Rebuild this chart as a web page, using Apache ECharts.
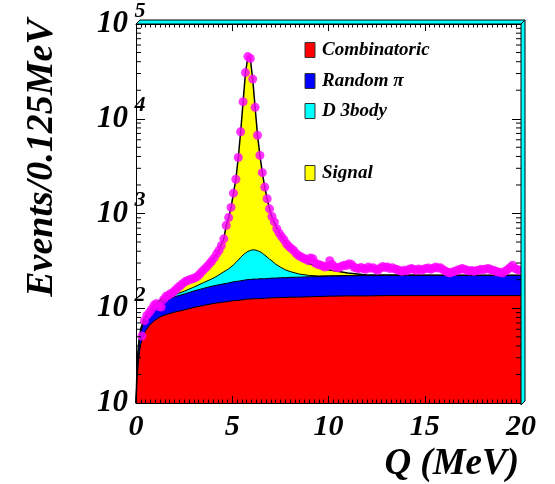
<!DOCTYPE html>
<html>
<head>
<meta charset="utf-8">
<script src="https://cdn.jsdelivr.net/npm/echarts@6/dist/echarts.min.js"></script>
<style>
html, body { margin: 0; padding: 0; background: #fff; }
#main { width: 555px; height: 484px; }
</style>
</head>
<body>
<div id="main"></div>
<script>
// histogram binning of the data points (MeV)
var binWidth = 0.125;

// measured events per 0.125 MeV bin (first two bins empty)
var dataCounts = [
    null, null, 51, 74, 84, 90, 98, 108, 112, 104,
    103, 124, 134, 137, 143, 148, 157, 166, 174, 183,
    191, 196, 201, 205, 210, 216, 230, 245, 260, 275,
    294, 315, 340, 375, 408, 460, 540, 748, 905, 1160,
    1640, 2300, 3900, 7300, 15100, 30700, 45300, 43200, 26200, 13200,
    6700, 4100, 2700, 1900, 1430, 1120, 930, 815, 690, 620,
    570, 528, 480, 450, 428, 408, 380, 360, 350, 338,
    330, 318, 340, 333, 300, 290, 286, 280, 272, 278,
    318, 290, 272, 268, 270, 278, 285, 282, 295, 290,
    272, 266, 262, 270, 262, 258, 272, 265, 268, 258,
    252, 264, 276, 270, 272, 262, 268, 260, 256, 250,
    245, 252, 248, 258, 262, 256, 252, 260, 252, 258,
    262, 266, 258, 264, 272, 266, 268, 256, 248, 240,
    236, 242, 245, 252, 256, 262, 258, 252, 248, 250,
    245, 250, 252, 258, 256, 260, 262, 255, 252, 246,
    241, 238, 236, 248, 256, 270, 284, 262, 256, 252
];

// fit components, evaluated at modelQ (MeV)
var modelQ = [
    0, 0.0625, 0.125, 0.1875, 0.25, 0.375, 0.5, 0.75, 1, 1.25, 1.5, 2, 2.5, 3, 3.5, 4, 4.25,
    4.5625, 4.6875, 4.8125, 4.9375, 5.0625, 5.1875, 5.3125, 5.4375, 5.5625, 5.6875, 5.8125,
    5.9375, 6.0625, 6.1875, 6.3125, 6.4375, 6.5625, 6.6875, 6.8125, 6.9375, 7.0625,
    7.25, 7.5, 7.75, 8, 8.5, 9, 9.5, 10, 11, 12, 13, 14, 16, 18, 20
];
var combinatoric = [
    10, 18, 27, 35, 42, 51, 58, 68, 75, 81, 85, 91, 96, 102, 107, 112, 114,
    116, 117, 118, 119, 120, 121, 121, 122, 123, 124, 125,
    125, 126, 126, 126, 127, 127, 127, 128, 128, 129,
    129, 130, 130, 131, 131, 132, 133, 134, 135, 135, 136, 136, 136, 136, 136
];
var randomPi = [
    0, 5, 8, 11, 14, 18, 21, 26, 30, 33, 36, 41, 45, 50, 55, 60, 62,
    65, 66, 67, 69, 70, 71, 72, 73, 74, 75, 76,
    76, 77, 77, 77, 78, 78, 78, 78, 79, 79,
    79, 80, 80, 81, 82, 83, 83, 84, 85, 86, 86, 86, 86, 86, 86
];
var d3body = [
    0, 1, 2, 2, 2, 2, 3, 3, 4, 4, 5, 7, 10, 15, 24, 35, 45,
    62, 68, 76, 85, 97, 112, 130, 150, 168, 184, 197,
    206, 211, 209, 202, 191, 176, 159, 141, 123, 108,
    85, 62, 45, 32, 16, 7, 3, 2, 1, 0, 0, 0, 0, 0, 0
];
var signal = [
    0, 3, 3, 3, 3, 2, 1, 2, 2, 4, 8, 13, 30, 41, 69, 121, 169,
    300, 500, 645, 890, 1350, 2000, 3580, 6950, 14700, 30300, 44900,
    42800, 25800, 12800, 6300, 3700, 2320, 1540, 1080, 790, 610,
    457, 323, 245, 194, 126, 73, 56, 35, 14, 4, 2, 2, 1, 1, 1
];

var yDecades = [10, 100, 1000, 10000, 100000];
var legendNames = ['Combinatoric', 'Random \u03c0', 'D 3body', 'Signal'];
var legendColors = ['#ff0000', '#0000ff', '#00ffff', '#ffff00'];
var legendRows = [50, 81, 111, 173];

var FONT = '"Liberation Serif", "Times New Roman", serif';

// stack the components
function stackOn(base, add) {
    return base.map(function(v, i) { return v + add[i]; });
}
var topRed = combinatoric.slice();
var topBlue = stackOn(topRed, randomPi);
var topCyan = stackOn(topBlue, d3body);
var topYellow = stackOn(topCyan, signal);

function pairs(ys) {
    return modelQ.map(function(q, i) { return [q, ys[i]]; });
}

var points = [];
dataCounts.forEach(function(v, i) {
    if (v != null) points.push([binWidth * (i + 0.5), v]);
});

// minor ticks of the log axis (2..9 x 10^n)
var minorVals = [];
for (var d = 0; d < yDecades.length - 1; d++) {
    for (var k = 2; k <= 9; k++) minorVals.push([0, k * yDecades[d]]);
}

function areaSeries(name, ys, color, z, lw) {
    return {
        name: name,
        type: 'line',
        data: pairs(ys),
        showSymbol: false,
        symbol: 'none',
        z: z,
        lineStyle: { color: '#000', width: lw },
        areaStyle: { color: color, opacity: 1, origin: 'start' },
        emphasis: { disabled: true },
        animation: false
    };
}

var chart = echarts.init(document.getElementById('main'));

var xAxisBase = {
    type: 'value', min: 0, max: 20, interval: 5, z: 10,
    axisLine: { show: true, onZero: false, lineStyle: { color: '#000', width: 1 } },
    axisTick: { show: true, inside: true, length: 7, lineStyle: { color: '#000' } },
    minorTick: { show: true, splitNumber: 20, length: 3.5, lineStyle: { color: '#000' } },
    splitLine: { show: false }
};
var yAxisBase = {
    type: 'log', logBase: 10, min: 10, max: 100000, z: 10,
    axisLine: { show: true, onZero: false, lineStyle: { color: '#000', width: 1 } },
    axisTick: { show: true, inside: true, length: 9, lineStyle: { color: '#000' } },
    splitLine: { show: false }
};

chart.setOption({
    animation: false,
    grid: { left: 136, right: 34, top: 24, bottom: 81 },
    xAxis: [
        Object.assign({}, xAxisBase, {
            position: 'bottom',
            axisLabel: { color: '#000', fontFamily: FONT, fontSize: 30, fontWeight: 'bold', fontStyle: 'italic', margin: 9 }
        }),
        Object.assign({}, xAxisBase, { position: 'top', axisLabel: { show: false } })
    ],
    yAxis: [
        Object.assign({}, yAxisBase, {
            position: 'left',
            axisLabel: {
                color: '#000', fontFamily: FONT, fontSize: 31, fontWeight: 'bold', fontStyle: 'italic',
                margin: 8, padding: [6, 0, 0, 0],
                formatter: function() { return '10'; }
            }
        }),
        Object.assign({}, yAxisBase, { position: 'right', axisLabel: { show: false } })
    ],
    series: [
        areaSeries('Signal', topYellow, '#ffff00', 2, 1.5),
        areaSeries('D 3body', topCyan, '#00ffff', 3, 1),
        areaSeries('Random \u03c0', topBlue, '#0000ff', 4, 1),
        areaSeries('Combinatoric', topRed, '#ff0000', 5, 1),
        {
            name: 'Data',
            type: 'scatter',
            data: points,
            symbol: 'circle',
            symbolSize: 9,
            z: 6,
            itemStyle: { color: '#ff00ff' },
            emphasis: { disabled: true }
        },
        {
            type: 'custom',
            data: minorVals,
            z: 11,
            silent: true,
            clip: false,
            renderItem: function(params, api) {
                var v = api.value(1);
                var l = api.coord([0, v]);
                var r = api.coord([20, v]);
                return {
                    type: 'group',
                    children: [
                        { type: 'line', shape: { x1: l[0], y1: l[1], x2: l[0] + 5, y2: l[1] }, style: { stroke: '#000', lineWidth: 1 } },
                        { type: 'line', shape: { x1: r[0] - 5, y1: r[1], x2: r[0], y2: r[1] }, style: { stroke: '#000', lineWidth: 1 } }
                    ]
                };
            }
        }
    ]
});

// frame bevel, titles, exponents, legend
var x0 = chart.convertToPixel({ xAxisIndex: 0 }, 0);
var x1 = chart.convertToPixel({ xAxisIndex: 0 }, 20);
var yTop = chart.convertToPixel({ yAxisIndex: 0 }, 100000);
var yBot = chart.convertToPixel({ yAxisIndex: 0 }, 10);

var elements = [
    {
        type: 'polygon', z: 100,
        shape: { points: [[x0, yTop], [x0 + 4, yTop - 4], [x1 + 4, yTop - 4], [x1, yTop]] },
        style: { fill: '#00ffff', stroke: '#000', lineWidth: 1 }
    },
    {
        type: 'polygon', z: 100,
        shape: { points: [[x1, yTop], [x1 + 4, yTop - 4], [x1 + 4, yBot - 2], [x1, yBot + 2]] },
        style: { fill: '#00ffff', stroke: '#000', lineWidth: 1 }
    },
    {
        type: 'text', z: 100, x: 42, y: 158, rotation: Math.PI / 2,
        style: {
            text: 'Events/0.125MeV', font: 'italic bold 38px ' + FONT, fill: '#000',
            align: 'center', verticalAlign: 'middle', textAlign: 'center', textVerticalAlign: 'middle'
        }
    },
    {
        type: 'text', z: 100, x: 519, y: 464,
        style: {
            text: 'Q (MeV)', font: 'italic bold 37px ' + FONT, fill: '#000',
            align: 'right', verticalAlign: 'middle', textAlign: 'right', textVerticalAlign: 'middle'
        }
    }
];

yDecades.forEach(function(v) {
    var e = Math.round(Math.log10(v));
    if (e < 2) return;
    var py = chart.convertToPixel({ yAxisIndex: 0 }, v);
    elements.push({
        type: 'text', z: 100, x: x0 + 4, y: py - 13,
        style: {
            text: String(e), font: 'italic bold 22px ' + FONT, fill: '#000',
            align: 'center', verticalAlign: 'middle', textAlign: 'center', textVerticalAlign: 'middle'
        }
    });
});

legendNames.forEach(function(name, i) {
    var cy = legendRows[i];
    elements.push({
        type: 'rect', z: 100,
        shape: { x: 305, y: cy - 7.5, width: 10, height: 15 },
        style: { fill: legendColors[i], stroke: '#333', lineWidth: 1 }
    });
    elements.push({
        type: 'text', z: 100, x: 322, y: cy,
        style: {
            text: name, font: 'italic bold 19px ' + FONT, fill: '#000',
            align: 'left', verticalAlign: 'middle', textAlign: 'left', textVerticalAlign: 'middle'
        }
    });
});

chart.setOption({ graphic: { elements: elements } });
</script>
</body>
</html>
